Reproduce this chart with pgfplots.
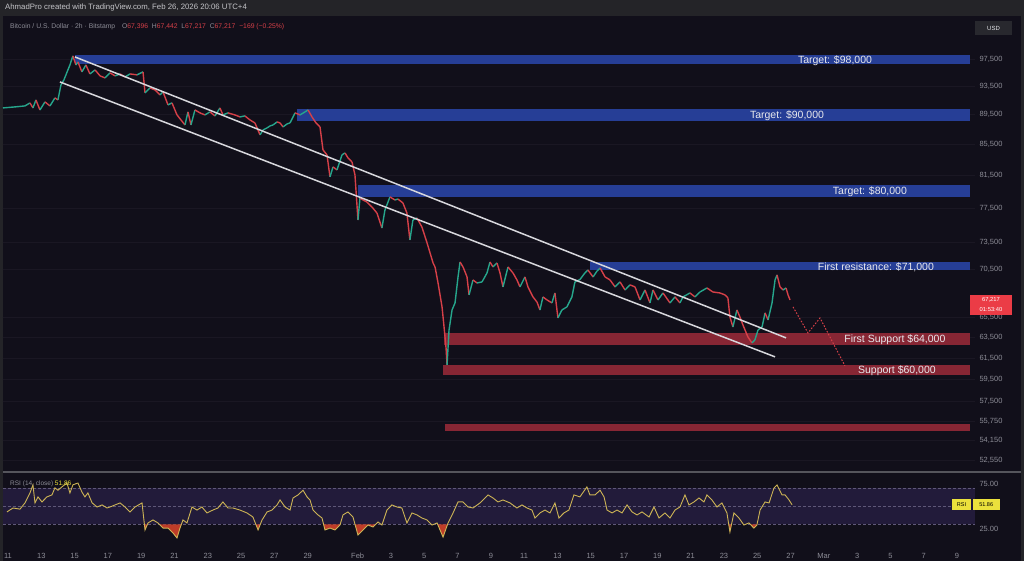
\documentclass[border=0pt]{standalone}
\usepackage{fontspec}
\setmainfont{Liberation Sans}
\usepackage{pgfplots}
\pgfplotsset{compat=1.18}
\definecolor{bg}{RGB}{17,15,26}
\definecolor{hdr}{RGB}{36,36,40}
\definecolor{gridc}{RGB}{26,23,35}
\definecolor{tickc}{RGB}{140,140,150}
\definecolor{bandblue}{RGB}{38,62,150}
\definecolor{bandred}{RGB}{135,38,52}
\definecolor{candred}{RGB}{214,64,72}
\definecolor{candgreen}{RGB}{38,166,140}
\definecolor{chan}{RGB}{215,215,220}
\definecolor{rsiline}{RGB}{205,180,85}
\definecolor{rsiband}{RGB}{34,27,58}
\definecolor{rsidash}{RGB}{95,88,120}
\definecolor{rsiover}{RGB}{190,60,40}
\definecolor{tagred}{RGB}{235,60,70}
\definecolor{rsitag}{RGB}{235,225,60}
\definecolor{labc}{RGB}{232,232,236}
\definecolor{usdbox}{RGB}{40,40,46}
\definecolor{sepc}{RGB}{85,85,92}
\begin{document}
\begin{tikzpicture}
\fill[hdr] (0pt,0pt) rectangle (1024pt,561pt);
\fill[bg] (3pt,0pt) rectangle (1021pt,545pt);
\node[anchor=west, text=labc!85!black, font=\fontsize{7.8}{9}\selectfont, inner sep=0pt] at (5pt,553.5pt) {AhmadPro created with TradingView.com, Feb 26, 2026 20:06 UTC+4};
\node[anchor=west, text=tickc, font=\fontsize{6.8}{8}\selectfont, inner sep=0pt] at (10pt,534pt) {Bitcoin / U.S. Dollar · 2h · Bitstamp\quad O\textcolor{candred}{67,396}\ \ H\textcolor{candred}{67,442}\ \ L\textcolor{candred}{67,217}\ \ C\textcolor{candred}{67,217}\ \ \textcolor{candred}{−169 (−0.25\%)}};
\fill[usdbox] (975pt,526pt) rectangle (1012pt,540pt);
\node[text=labc, font=\fontsize{6}{7}\selectfont] at (993.5pt,533pt) {USD};

\begin{axis}[
  at={(3pt,91pt)}, anchor=south west, scale only axis, width=972pt, height=452pt,
  xmin=-0.3, xmax=58.08, ymode=log, ymin=51760, ymax=103860,
  axis line style={draw=none}, major tick length=0pt, minor tick length=0pt,
  xtick=\empty,
  ytick={97500,93500,89500,85500,81500,77500,73500,70500,65500,63500,61500,59500,57500,55750,54150,52550},
  yticklabels={{97,500},{93,500},{89,500},{85,500},{81,500},{77,500},{73,500},{70,500},{65,500},{63,500},{61,500},{59,500},{57,500},{55,750},{54,150},{52,550}},
  yticklabel pos=right,
  yticklabel style={font=\fontsize{7.5}{8}\selectfont, text=tickc, xshift=1pt},
  ymajorgrids, grid style={gridc, line width=0.8pt},
]
% zones
\addplot[fill=bandblue, draw=none] coordinates {(4.02,96750) (57.78,96750) (57.78,98100) (4.02,98100)} -- cycle;
\addplot[fill=bandblue, draw=none] coordinates {(17.36,88620) (57.78,88620) (57.78,90270) (17.36,90270)} -- cycle;
\addplot[fill=bandblue, draw=none] coordinates {(21.02,78830) (57.78,78830) (57.78,80300) (21.02,80300)} -- cycle;
\addplot[fill=bandblue, draw=none] coordinates {(34.95,70440) (57.78,70440) (57.78,71310) (34.95,71310)} -- cycle;
\addplot[fill=bandred, draw=none] coordinates {(26.19,62760) (57.78,62760) (57.78,63930) (26.19,63930)} -- cycle;
\addplot[fill=bandred, draw=none] coordinates {(26.13,59920) (57.78,59920) (57.78,60850) (26.13,60850)} -- cycle;
\addplot[fill=bandred, draw=none] coordinates {(26.25,54970) (57.78,54970) (57.78,55560) (26.25,55560)} -- cycle;
% price path (2h BTC/USD, traced); c=1 rising segment, c=0 falling
\addplot[mesh, shader=flat corner, point meta=explicit, point meta min=0, point meta max=1,
  colormap={updown}{rgb255=(214,64,72) rgb255=(38,166,140)}, line width=1.4pt, mark=none]
  table[x index=0, y index=1, meta index=2] {
-0.30 90410 1
0.42 90550 1
1.02 90690 1
1.32 91110 0
1.50 90410 1
1.68 91530 0
1.92 90130 1
2.22 91250 0
2.52 90690 1
2.82 91815 0
3.00 91530 1
3.18 93670 1
3.36 94400 1
3.48 95130 1
3.72 96600 1
3.90 97950 0
4.08 96600 1
4.20 97050 0
4.44 95570 1
4.68 96600 0
4.92 95270 1
5.23 95860 0
5.53 94980 0
5.83 94690 1
6.13 95420 0
6.43 94980 1
6.73 95270 0
7.03 94830 1
7.33 95270 0
7.75 95130 1
8.11 95570 0
8.23 92520 1
8.53 93240 0
8.83 92950 0
9.13 92240 1
9.31 92670 0
9.61 90830 1
9.85 91110 0
10.15 89440 0
10.39 88750 0
10.63 88070 1
10.81 89855 0
10.99 88070 1
11.23 90130 0
11.53 89720 0
11.83 89440 1
12.13 89855 0
12.43 89300 1
12.73 90410 0
12.91 89440 1
13.21 89720 0
13.63 89440 0
13.93 89165 1
14.23 89300 0
14.53 88750 0
14.83 88345 0
15.14 86730 1
15.32 87400 1
15.56 87670 1
15.74 87940 1
15.92 88070 1
16.16 88480 0
16.34 88345 0
16.52 87800 1
16.76 88210 1
16.94 88345 1
17.24 89720 0
17.54 89440 1
17.84 89855 1
18.02 90130 0
18.26 89165 0
18.50 88345 0
18.74 87800 0
18.92 84745 0
19.16 84095 0
19.34 81290 1
19.52 82555 0
19.76 82170 1
20.06 84095 1
20.24 84355 0
20.42 83710 0
20.66 83190 0
20.84 81540 0
21.02 76080 1
21.14 78700 0
21.32 78460 0
21.56 78220 0
21.86 77620 0
22.16 76900 0
22.46 75150 1
22.64 77260 1
22.94 78830 0
23.24 78460 1
23.42 78580 0
23.72 78100 0
23.96 76900 0
24.14 73770 1
24.32 76080 1
24.56 76320 0
24.86 75265 0
25.17 73430 0
25.35 72310 0
25.53 71200 0
25.65 70770 0
25.83 69040 0
26.07 66540 0
26.19 64520 0
26.31 62470 0
26.37 60850 1
26.49 64220 1
26.67 66230 1
26.85 66950 1
27.03 69690 1
27.15 71310 0
27.33 70770 0
27.57 69690 0
27.69 67780 1
27.93 69360 0
28.17 69040 1
28.47 69150 1
28.77 70120 1
28.95 71310 0
29.13 70770 1
29.37 71200 0
29.55 70120 0
29.73 68620 1
30.03 70770 0
30.33 70120 0
30.57 69360 0
30.75 68620 1
31.05 69690 0
31.23 68620 0
31.53 67570 0
31.77 67050 0
31.95 66230 1
32.13 67570 0
32.37 67260 0
32.67 66950 1
32.85 67990 0
33.03 65420 1
33.27 66230 1
33.57 66540 1
33.87 67570 1
34.05 69150 1
34.35 69400 1
34.65 70120 1
34.83 70440 0
35.14 69690 1
35.38 70330 1
35.56 70660 0
35.86 69690 0
36.16 69360 0
36.46 68620 1
36.76 69150 0
37.06 68300 1
37.36 68830 0
37.66 68620 0
37.96 67260 1
38.26 68300 0
38.56 66950 1
38.74 68300 0
39.04 67260 1
39.34 67990 0
39.76 66950 1
40.06 67570 0
40.36 66950 1
40.54 67570 1
40.96 67990 0
41.26 67570 1
41.56 68090 1
41.98 68510 0
42.34 68090 0
42.76 67990 0
43.06 67780 0
43.24 67470 0
43.36 65520 0
43.54 64520 1
43.78 66230 0
43.96 65520 0
44.14 64720 0
44.44 63530 0
44.68 62950 1
44.86 63240 1
45.05 64220 1
45.29 64520 1
45.47 65930 0
45.65 65220 1
45.89 66950 1
46.07 69360 1
46.19 69900 0
46.37 68620 0
46.55 68300 1
46.73 68510 0
46.85 67780 0
46.97 67260 0
};
% channel
\addplot[chan, line width=1.5pt] coordinates {(4.02,97800) (46.73,63440)};
\addplot[chan, line width=1.5pt] coordinates {(3.12,94100) (46.07,61610)};
% projected path
\addplot[candred, line width=1pt, dash pattern=on 1.6pt off 1.6pt] coordinates {(47.15,66540) (48.05,63930) (48.77,65420) (50.27,60760)};
% labels
\node[text=labc, font=\fontsize{10.5}{12}\selectfont] at (axis cs:49.67,97250) {Target: \$98,000};
\node[text=labc, font=\fontsize{10.5}{12}\selectfont] at (axis cs:46.79,89400) {Target: \$90,000};
\node[text=labc, font=\fontsize{10.5}{12}\selectfont] at (axis cs:51.77,79500) {Target: \$80,000};
\node[text=labc, font=\fontsize{10.5}{12}\selectfont] at (axis cs:52.13,70700) {First resistance: \$71,000};
\node[text=labc, font=\fontsize{10.5}{12}\selectfont] at (axis cs:53.27,63300) {First Support \$64,000};
\node[text=labc, font=\fontsize{10.5}{12}\selectfont] at (axis cs:53.39,60350) {Support \$60,000};
\end{axis}

\draw[sepc, line width=1.3pt] (3pt,89pt) -- (1021pt,89pt);

\begin{axis}[
  at={(3pt,14pt)}, anchor=south west, scale only axis, width=972pt, height=73pt,
  xmin=-0.3, xmax=58.08, ymin=5, ymax=86,
  axis line style={draw=none}, major tick length=0pt,
  xtick={0,2,4,6,8,10,12,14,16,18,21,23,25,27,29,31,33,35,37,39,41,43,45,47,49,51,53,55,57},
  xticklabels={11,13,15,17,19,21,23,25,27,29,Feb,3,5,7,9,11,13,15,17,19,21,23,25,27,Mar,3,5,7,9},
  xticklabel style={font=\fontsize{7.5}{8}\selectfont, text=tickc, yshift=-2.5pt},
  ytick={25,75}, yticklabels={25.00,75.00}, yticklabel pos=right,
  yticklabel style={font=\fontsize{7.5}{8}\selectfont, text=tickc, xshift=1pt},
]
\addplot[fill=rsiband, draw=none] coordinates {(-0.3,30) (58.08,30) (58.08,70) (-0.3,70)} -- cycle;
\addplot[rsidash, line width=0.7pt, dash pattern=on 2.5pt off 2.5pt] coordinates {(-0.3,70) (58.08,70)};
\addplot[rsidash, line width=0.7pt, dash pattern=on 2.5pt off 2.5pt] coordinates {(-0.3,50) (58.08,50)};
\addplot[rsidash, line width=0.7pt, dash pattern=on 2.5pt off 2.5pt] coordinates {(-0.3,30) (58.08,30)};
% oversold areas (RSI below 30)
\addplot[fill=rsiover, draw=none] coordinates {(8.19,30) (8.23,23.9) (8.37,30)} -- cycle;
\addplot[fill=rsiover, draw=none] coordinates {(9.10,30) (9.31,26) (9.61,26) (9.91,20.6) (10.15,15) (10.33,26) (10.41,30)} -- cycle;
\addplot[fill=rsiover, draw=none] coordinates {(14.89,30) (15.02,23.9) (15.15,30)} -- cycle;
\addplot[fill=rsiover, draw=none] coordinates {(18.96,30) (19.04,23.9) (19.34,26) (19.64,23.9) (19.94,29.4) (19.95,30)} -- cycle;
\addplot[fill=rsiover, draw=none] coordinates {(20.84,30) (21.02,18.3) (21.32,23.9) (21.62,29.4) (21.92,27.2) (22.07,30)} -- cycle;
\addplot[fill=rsiover, draw=none] coordinates {(25.81,30) (26.13,16) (26.40,30)} -- cycle;
\addplot[fill=rsiover, draw=none] coordinates {(43.29,30) (43.36,21.7) (43.45,30)} -- cycle;
\addplot[fill=rsiover, draw=none] coordinates {(44.59,30) (44.80,26) (44.98,29.4) (44.99,30)} -- cycle;
\addplot[rsiline, line width=0.9pt] coordinates {
(-0.06,43.9) (0.30,48.3) (0.72,47.0) (1.02,53.9) (1.32,65.0) (1.50,74.0) (1.62,54.0) (1.80,60.6)
(2.04,55.0) (2.34,60.6) (2.64,62.8) (2.82,70.6) (3.00,68.0) (3.24,71.7) (3.54,76.0) (3.72,65.0)
(3.90,74.0) (4.20,76.0) (4.44,66.0) (4.62,60.6) (4.80,65.0) (5.05,54.0) (5.35,49.4) (5.65,51.7)
(5.95,48.3) (6.13,49.4) (6.43,51.7) (6.73,53.9) (7.03,49.4) (7.33,43.9) (7.63,49.4) (8.05,53.9)
(8.23,23.9) (8.41,31.7) (8.71,35.0) (9.01,31.7) (9.31,26.0) (9.61,26.0) (9.91,20.6) (10.15,15.0)
(10.33,26.0) (10.51,35.0) (10.75,31.7) (11.05,49.4) (11.35,46.0) (11.65,49.4) (11.95,42.8) (12.31,46.0)
(12.61,48.3) (12.91,55.0) (13.21,48.3) (13.51,48.3) (13.93,46.0) (14.35,42.8) (14.71,38.3) (15.02,23.9)
(15.26,35.0) (15.56,43.9) (15.86,46.0) (16.16,51.7) (16.34,57.2) (16.64,49.4) (16.94,46.0) (17.12,59.4)
(17.42,62.8) (17.72,68.0) (17.96,60.6) (18.14,57.2) (18.32,46.0) (18.62,40.6) (18.86,37.2) (19.04,23.9)
(19.34,26.0) (19.64,23.9) (19.94,29.4) (20.12,40.6) (20.42,43.9) (20.72,38.3) (21.02,18.3) (21.32,23.9)
(21.62,29.4) (21.92,27.2) (22.22,32.8) (22.46,29.4) (22.76,46.0) (23.06,51.7) (23.36,49.4) (23.66,48.3)
(23.96,31.7) (24.26,42.8) (24.56,40.6) (24.86,37.2) (25.17,35.0) (25.47,29.4) (25.77,31.7) (26.13,16.0)
(26.43,31.7) (26.73,42.8) (27.03,55.0) (27.33,55.0) (27.63,49.4) (27.93,48.3) (28.35,53.9) (28.83,62.8)
(29.13,59.4) (29.43,55.0) (29.73,57.2) (30.15,53.9) (30.57,48.3) (30.87,51.7) (31.17,48.3) (31.47,46.0)
(31.65,37.2) (31.95,42.8) (32.25,46.0) (32.55,42.8) (32.85,53.9) (33.09,37.2) (33.39,42.8) (33.69,46.0)
(33.99,62.8) (34.35,60.6) (34.77,71.7) (34.95,62.8) (35.26,62.8) (35.56,68.0) (35.80,60.6) (35.98,46.0)
(36.28,42.8) (36.58,46.0) (36.88,42.8) (37.18,51.7) (37.48,43.9) (37.78,40.6) (38.08,43.9) (38.50,38.3)
(38.80,49.4) (39.10,37.2) (39.46,42.8) (39.76,37.2) (40.06,46.0) (40.36,49.4) (40.66,62.8) (40.90,51.7)
(41.20,55.0) (41.50,59.4) (41.80,55.0) (41.98,62.8) (42.28,57.2) (42.58,49.4) (42.88,53.9) (43.18,42.8)
(43.36,21.7) (43.60,42.8) (43.90,37.2) (44.20,29.4) (44.50,31.7) (44.80,26.0) (44.98,29.4) (45.17,46.0)
(45.47,55.0) (45.71,53.9) (46.01,70.6) (46.19,73.9) (46.49,62.8) (46.67,62.8) (46.91,57.2) (47.09,51.9)
};
\end{axis}

% RSI header and tags
\node[anchor=west, text=tickc, font=\fontsize{6.5}{8}\selectfont, inner sep=0pt] at (10pt,77pt) {RSI (14, close)\ \textcolor{rsitag}{51.86}};
\fill[rsitag] (952pt,51pt) rectangle (971pt,62pt);
\fill[rsitag] (972.5pt,51pt) rectangle (1000pt,62pt);
\node[text=black, font=\fontsize{5.5}{6}\selectfont] at (961.5pt,56.5pt) {RSI};
\node[text=black, font=\fontsize{5.5}{6}\selectfont] at (986.2pt,56.5pt) {51.86};
% price tag
\fill[tagred] (970pt,246pt) rectangle (1012pt,266pt);
\node[text=white, font=\fontsize{5.8}{6}\selectfont] at (991pt,261pt) {67,217};
\node[text=white, font=\fontsize{5.8}{6}\selectfont] at (991pt,251.5pt) {01:53:40};
\pgfresetboundingbox
\path[use as bounding box] (0pt,0pt) rectangle (1024pt,561pt);
\end{tikzpicture}
\end{document}
